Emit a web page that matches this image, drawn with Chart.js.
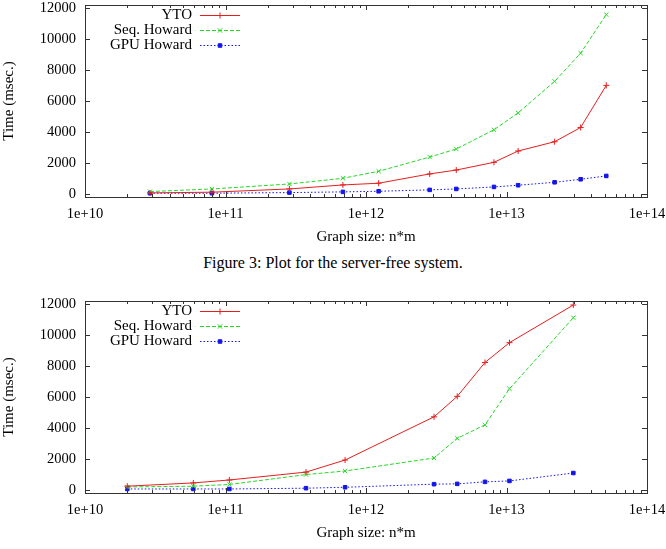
<!DOCTYPE html>
<html>
<head>
<meta charset="utf-8">
<script src="https://cdn.jsdelivr.net/npm/chart.js@4/dist/chart.umd.min.js"></script>
<style>
  html, body { margin: 0; padding: 0; background: #fff; }
  body { width: 666px; height: 549px; position: relative; overflow: hidden; font-family: "Liberation Serif", "DejaVu Serif", serif; }
  .plot { position: absolute; left: 0; width: 666px; height: 250px; }
  #caption { position: absolute; left: 0; width: 666px; top: 254px; text-align: center; font-size: 16px; line-height: 18px; color: #000; }
</style>
</head>
<body>
<div class="plot" style="top:0"><canvas id="grafico1" width="666" height="250"></canvas></div>
<div id="caption">Figure 3: Plot for the server-free system.</div>
<div class="plot" style="top:296px"><canvas id="grafico2" width="666" height="250"></canvas></div>
<script>
// dados
const seriesNames = ['YTO', 'Seq. Howard', 'GPU Howard'];
const xTicks = [1e10, 1e11, 1e12, 1e13, 1e14];
const yTicks = [0, 2000, 4000, 6000, 8000, 10000, 12000];

// grafico de cima
const sizes1 = [2.9e10, 8e10, 2.85e11, 6.85e11, 1.23e12, 2.84e12, 4.39e12, 8.14e12, 1.21e13, 2.2e13, 3.37e13, 5.13e13];
const yto1 = [65, 110, 320, 580, 690, 1290, 1540, 2040, 2770, 3370, 4290, 7010];
const seq1 = [150, 320, 640, 1010, 1460, 2380, 2900, 4140, 5230, 7270, 9090, 11580];
const gpu1 = [45, 45, 85, 130, 170, 260, 320, 450, 560, 750, 945, 1160];

// grafico de baixo
const sizes2 = [2.0e10, 5.9e10, 1.065e11, 3.74e11, 7.1e11, 3.05e12, 4.46e12, 7.03e12, 1.05e13, 2.99e13];
const yto2 = [240, 450, 640, 1150, 1930, 4720, 6040, 8230, 9510, 11940];
const seq2 = [190, 240, 350, 990, 1220, 2060, 3330, 4200, 6530, 11120];
const gpu2 = [60, 60, 60, 110, 170, 370, 390, 520, 580, 1090];

const familia = '"Liberation Serif", "DejaVu Serif", serif';
const fonteTicks = { family: familia, size: 14.5 };
const fonte = { family: familia, size: 15 };

// moldura e marcas internas (estilo gnuplot)
const moldura = {
    id: 'moldura',
    afterDatasetsDraw(chart) {
        const ctx = chart.ctx;
        const a = chart.chartArea;
        const xs = chart.scales.x, ys = chart.scales.y;
        ctx.save();
        ctx.strokeStyle = '#333';
        ctx.lineWidth = 1;
        ctx.beginPath();
        yTicks.forEach(v => {
            const y = Math.round(ys.getPixelForValue(v)) + 0.5;
            ctx.moveTo(a.left, y); ctx.lineTo(a.left + 5, y);
            ctx.moveTo(a.right, y); ctx.lineTo(a.right - 5, y);
        });
        for (let d = 0; d < xTicks.length; d++) {
            for (let k = 1; k <= 9; k++) {
                const v = xTicks[d] * k;
                if (v > xTicks[xTicks.length - 1]) break;
                const x = Math.round(xs.getPixelForValue(v)) + 0.5;
                const len = k === 1 ? 5 : 3;
                ctx.moveTo(x, a.bottom); ctx.lineTo(x, a.bottom - len);
                ctx.moveTo(x, a.top); ctx.lineTo(x, a.top + len);
            }
        }
        ctx.stroke();
        ctx.strokeRect(Math.round(a.left) + 0.5, Math.round(a.top) + 0.5, Math.round(a.right - a.left), Math.round(a.bottom - a.top));
        ctx.restore();
    }
};

// legenda com texto a esquerda da amostra
const legenda = {
    id: 'legenda',
    afterDraw(chart) {
        const ctx = chart.ctx;
        ctx.save();
        ctx.font = fonte.size + 'px ' + fonte.family;
        ctx.textAlign = 'right';
        ctx.textBaseline = 'middle';
        chart.data.datasets.forEach((ds, i) => {
            const y = 15 + i * 15;
            ctx.fillStyle = '#000';
            ctx.fillText(ds.label, 192, y);
            ctx.strokeStyle = ds.borderColor;
            ctx.lineWidth = 1;
            ctx.setLineDash(ds.borderDash || []);
            ctx.beginPath();
            ctx.moveTo(200, y + 0.5); ctx.lineTo(240, y + 0.5);
            ctx.stroke();
            ctx.setLineDash([]);
            ctx.fillStyle = ds.borderColor;
            Chart.helpers.drawPoint(ctx, {
                pointStyle: ds.pointStyle, radius: ds.pointRadius, rotation: 0,
                borderWidth: 1
            }, 220, y + 0.5);
        });
        ctx.restore();
    }
};

function pontos(xs, ys) {
    return xs.map((x, i) => ({ x: x, y: ys[i] }));
}

function criarGrafico(id, sizes, yto, seq, gpu) {
    const ctx = document.getElementById(id).getContext('2d');
    return new Chart(ctx, {
        type: 'line',
        data: {
            datasets: [{
                label: seriesNames[0],
                data: pontos(sizes, yto),
                borderColor: 'rgb(230,30,30)',
                backgroundColor: 'rgb(230,30,30)',
                borderWidth: 1,
                pointStyle: 'cross',
                pointRadius: 3,
                pointBorderWidth: 1,
                tension: 0
            }, {
                label: seriesNames[1],
                data: pontos(sizes, seq),
                borderColor: 'rgb(40,215,40)',
                backgroundColor: 'rgb(40,215,40)',
                borderWidth: 1,
                borderDash: [4, 2],
                pointStyle: 'crossRot',
                pointRadius: 3,
                pointBorderWidth: 1,
                tension: 0
            }, {
                label: seriesNames[2],
                data: pontos(sizes, gpu),
                borderColor: 'rgb(20,20,235)',
                backgroundColor: 'rgb(20,20,235)',
                borderWidth: 1,
                borderDash: [1.5, 2],
                pointStyle: 'rect',
                pointRadius: 2.5,
                pointBorderWidth: 1,
                tension: 0
            }]
        },
        options: {
            responsive: false,
            maintainAspectRatio: false,
            animation: false,
            devicePixelRatio: 1,
            layout: { padding: { top: 4, right: 19, left: 0, bottom: 0 } },
            plugins: { legend: { display: false }, tooltip: { enabled: false } },
            scales: {
                x: {
                    type: 'logarithmic',
                    min: 1e10,
                    max: 1e14,
                    grid: { display: false, drawTicks: false },
                    border: { display: false },
                    afterBuildTicks: s => { s.ticks = xTicks.map(v => ({ value: v })); },
                    afterFit: s => { s.height = 53; s.paddingLeft = 0; s.paddingRight = 0; },
                    ticks: {
                        color: '#000', font: fonteTicks, padding: 8, maxRotation: 0, autoSkip: false,
                        callback: v => '1e+' + Math.round(Math.log10(v))
                    },
                    title: { display: true, text: 'Graph size: n*m', color: '#000', font: fonte, padding: { top: 4, bottom: 4 } }
                },
                y: {
                    min: -200,
                    max: 12200,
                    grid: { display: false, drawTicks: false },
                    border: { display: false },
                    afterBuildTicks: s => { s.ticks = yTicks.map(v => ({ value: v })); },
                    afterFit: s => { s.width = 85; s.paddingTop = 0; s.paddingBottom = 0; },
                    ticks: { color: '#000', font: fonteTicks, padding: 9, callback: v => String(v) },
                    title: { display: true, text: 'Time (msec.)', color: '#000', font: fonte, padding: 0 }
                }
            }
        },
        plugins: [moldura, legenda]
    });
}

document.addEventListener('DOMContentLoaded', function() {
    criarGrafico('grafico1', sizes1, yto1, seq1, gpu1);
    criarGrafico('grafico2', sizes2, yto2, seq2, gpu2);
});
</script>
</body>
</html>
